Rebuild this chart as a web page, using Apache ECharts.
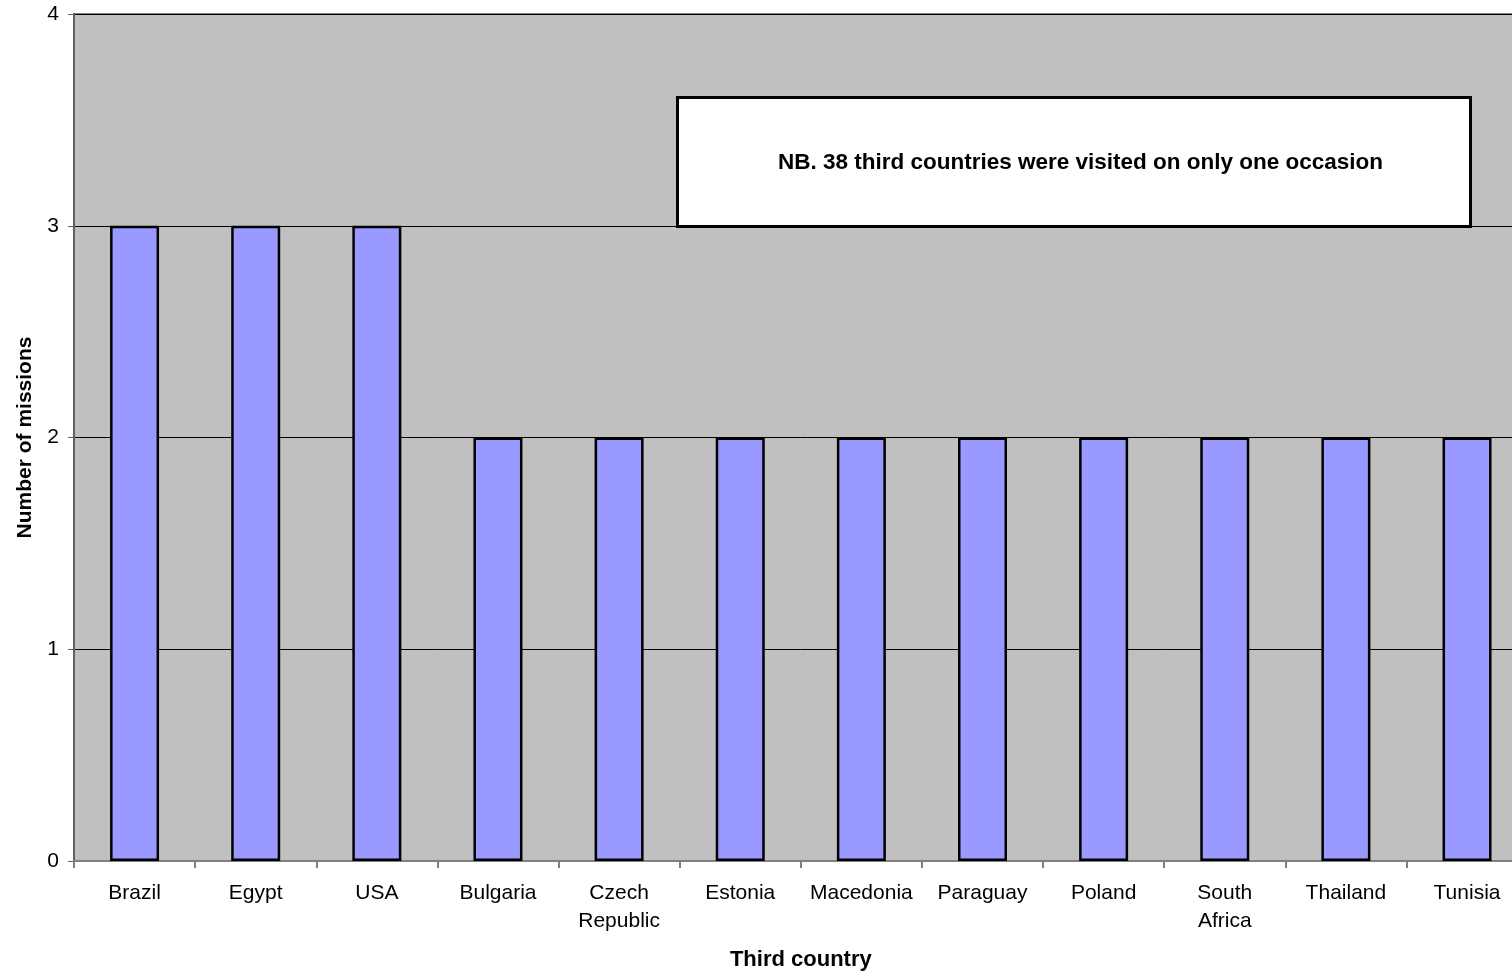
<!DOCTYPE html>
<html>
<head>
<meta charset="utf-8">
<script src="https://cdn.jsdelivr.net/npm/echarts@6/dist/echarts.min.js"></script>
<style>
  html, body { margin: 0; padding: 0; background: #ffffff; overflow: hidden; width: 1512px; height: 973px; }
  #chart { position: absolute; left: 0; top: 0; width: 1560px; height: 973px; }
</style>
</head>
<body>
<div id="chart"></div>
<script>
// Third countries visited more than once
const countries = ['Brazil', 'Egypt', 'USA', 'Bulgaria', 'Czech\nRepublic', 'Estonia',
                   'Macedonia', 'Paraguay', 'Poland', 'South\nAfrica', 'Thailand', 'Tunisia'];
const missions = [3, 3, 3, 2, 2, 2, 2, 2, 2, 2, 2, 2];
const yTicks = [0, 1, 2, 3, 4];
const note = 'NB. 38 third countries were visited on only one occasion';

const FONT = 'Liberation Sans, Arial, sans-serif';
const chart = echarts.init(document.getElementById('chart'), null, { renderer: 'canvas' });

const gridLeft = 74, gridTop = 14, gridWidth = 1453.6, gridHeight = 847;

chart.setOption({
  animation: false,
  backgroundColor: '#ffffff',
  grid: {
    left: gridLeft, top: gridTop, width: gridWidth, height: gridHeight,
    outerBoundsMode: 'none', containLabel: false,
    show: true, backgroundColor: '#C0C0C0', borderColor: '#808080', borderWidth: 2
  },
  xAxis: {
    type: 'category',
    data: countries,
    name: 'Third country',
    nameLocation: 'middle',
    nameGap: 88,
    nameTextStyle: { fontFamily: FONT, fontSize: 22, fontWeight: 'bold', color: '#000' },
    axisLine: { show: true, lineStyle: { color: '#808080', width: 2 } },
    axisTick: { show: true, alignWithLabel: false, length: 7, lineStyle: { color: '#808080', width: 2 } },
    axisLabel: { fontFamily: FONT, fontSize: 21, color: '#000', margin: 18, lineHeight: 28, interval: 0 },
    splitLine: { show: false }
  },
  yAxis: {
    type: 'value',
    min: yTicks[0],
    max: yTicks[yTicks.length - 1],
    interval: 1,
    name: 'Number of missions',
    nameLocation: 'middle',
    nameGap: 38,
    nameRotate: 90,
    nameTextStyle: { fontFamily: FONT, fontSize: 21, fontWeight: 'bold', color: '#000' },
    axisLine: { show: true, lineStyle: { color: '#606060', width: 2 } },
    axisTick: { show: true, length: 6, lineStyle: { color: '#606060', width: 1 } },
    axisLabel: { fontFamily: FONT, fontSize: 21, color: '#000', margin: 15 },
    splitLine: { show: true, lineStyle: { color: '#000', width: 1 } }
  },
  series: [{
    type: 'bar',
    data: missions,
    barWidth: 49,
    itemStyle: { color: '#9999FF', borderColor: '#000', borderWidth: 2.5 },
    z: 3
  }],
  graphic: [{
    type: 'group',
    left: 676, top: 96,
    z: 100,
    children: [{
      type: 'rect',
      shape: { x: 0, y: 0, width: 793, height: 129 },
      style: { fill: '#ffffff', stroke: '#000', lineWidth: 3 }
    }, {
      type: 'text',
      x: 403, y: 65,
      style: {
        text: note, fill: '#000', font: 'bold 22.5px ' + FONT,
        textAlign: 'center', textVerticalAlign: 'middle'
      }
    }]
  }]
});
</script>
</body>
</html>
